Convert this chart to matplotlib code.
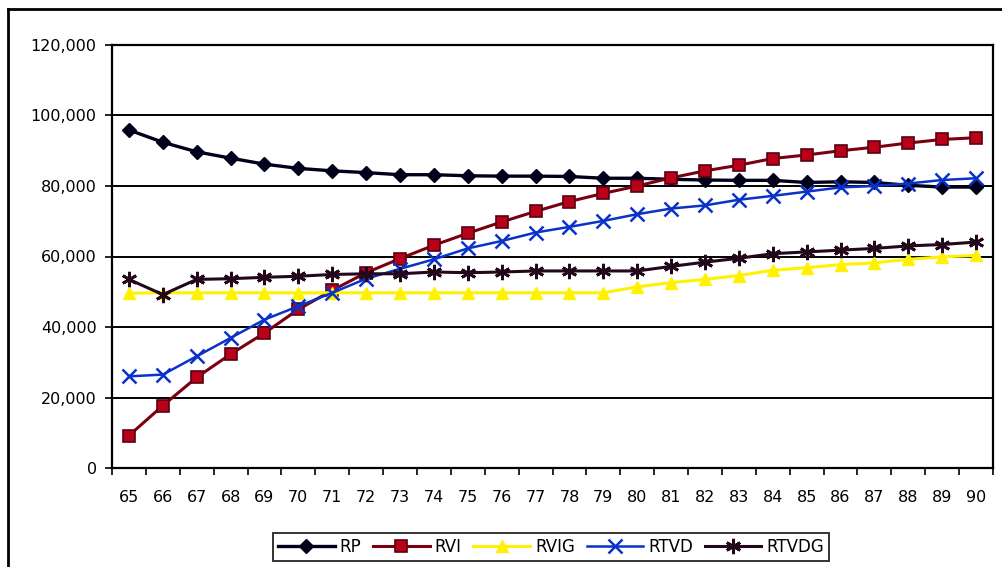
import numpy as np
import matplotlib
matplotlib.use("Agg")
import matplotlib.pyplot as plt
from matplotlib.lines import Line2D
from matplotlib.ticker import FuncFormatter

# ---------- Data ----------
edades = list(range(65, 91))

rp = [95900, 92400, 89700, 87900, 86200, 85000, 84300, 83800, 83200, 83200,
      82900, 82800, 82800, 82700, 82200, 82200, 81900, 81700, 81600, 81600,
      81000, 81200, 81000, 80200, 79700, 79700]

rvi = [9200, 17700, 25700, 32300, 38300, 45000, 50400, 55400, 59400, 63200,
       66600, 69800, 72800, 75600, 77900, 80000, 82300, 84300, 85900, 87800,
       88800, 90000, 91000, 92200, 93200, 93700]

rvig = [49600, 49700, 49700, 49700, 49700, 49700, 49700, 49700, 49700, 49700,
        49700, 49700, 49700, 49700, 49700, 51400, 52600, 53500, 54600, 56100,
        56800, 57700, 58200, 59200, 59900, 60300]

rtvd = [26000, 26500, 31700, 36900, 42100, 45900, 49700, 53700, 56500, 59200,
        62300, 64400, 66800, 68400, 70100, 72000, 73600, 74500, 76100, 77200,
        78400, 79600, 80000, 80700, 81700, 82200]

rtvdg = [53500, 49200, 53500, 53700, 54100, 54400, 54900, 55100, 55100, 55600,
         55400, 55600, 55900, 55900, 55900, 55900, 57200, 58400, 59500, 60800,
         61300, 61800, 62300, 63000, 63400, 64100]

series_names = ["RP", "RVI", "RVIG", "RTVD", "RTVDG"]

# ---------- Figure ----------
W, H = 1003, 567
fig = plt.figure(figsize=(W / 100, H / 100), dpi=100)
fig.patch.set_facecolor("white")

ax = fig.add_axes([112 / W, (H - 468) / H, 881 / W, (468 - 45) / H])
ax.set_facecolor("white")

x = np.arange(len(edades))

ax.plot(x, rp, color="#00001a", lw=2.4, marker="D", ms=7.5,
        mfc="#00001a", mec="#00001a", label=series_names[0], zorder=3)
ax.plot(x, rvi, color="#7a0010", lw=2.2, marker="s", ms=8,
        mfc="#b80018", mec="#5a0010", mew=1.2, label=series_names[1], zorder=4)
ax.plot(x, rvig, color="#fff200", lw=2.2, marker="^", ms=9,
        mfc="#fff200", mec="#fff200", label=series_names[2], zorder=5)
ax.plot(x, rtvd, color="#0a32c8", lw=1.8, marker="x", ms=9.5, mew=1.8,
        mec="#0a32c8", label=series_names[3], zorder=6)
ax.plot(x, rtvdg, color="#22081a", lw=2.2, marker=(6, 2, 0), ms=11, mew=2.0,
        mec="#22081a", label=series_names[4], zorder=7)

# ---------- Axes styling ----------
ax.set_xlim(-0.5, len(edades) - 0.5)
ax.set_ylim(0, 120000)
ax.set_yticks(np.arange(0, 120001, 20000))
ax.yaxis.set_major_formatter(FuncFormatter(lambda v, p: f"{int(v):,}"))
ax.grid(axis="y", color="black", lw=1.4, zorder=1)
ax.set_axisbelow(True)

ax.set_xticks(x)
ax.set_xticklabels([str(e) for e in edades])
ax.set_xticks(np.arange(-0.5, len(edades)), minor=True)
ax.tick_params(axis="x", which="major", length=0, pad=16, labelsize=11.5)
ax.tick_params(axis="x", which="minor", length=5, width=1.2, direction="out")
ax.tick_params(axis="y", length=5, width=1.2, direction="out", pad=6, labelsize=11.5)

for side in ["left", "bottom", "right", "top"]:
    ax.spines[side].set_color("black")
    ax.spines[side].set_linewidth(1.6)

# ---------- Legend ----------
leg = fig.legend(loc="center", bbox_to_anchor=(551 / W, (H - 547) / H),
                 ncol=5, frameon=True, fancybox=False, handlelength=3.4,
                 handletextpad=0.3, columnspacing=0.7, fontsize=12,
                 borderpad=0.3)
leg.get_frame().set_edgecolor("black")
leg.get_frame().set_linewidth(1.4)

# ---------- Outer frame (clipped by image edge) ----------
fig.add_artist(Line2D([8 / W, 8 / W], [0, (H - 9) / H], color="black", lw=2.0))
fig.add_artist(Line2D([8 / W, 1.0], [(H - 9) / H, (H - 9) / H], color="black", lw=2.0))

fig.savefig("out.png", dpi=100, facecolor="white")
